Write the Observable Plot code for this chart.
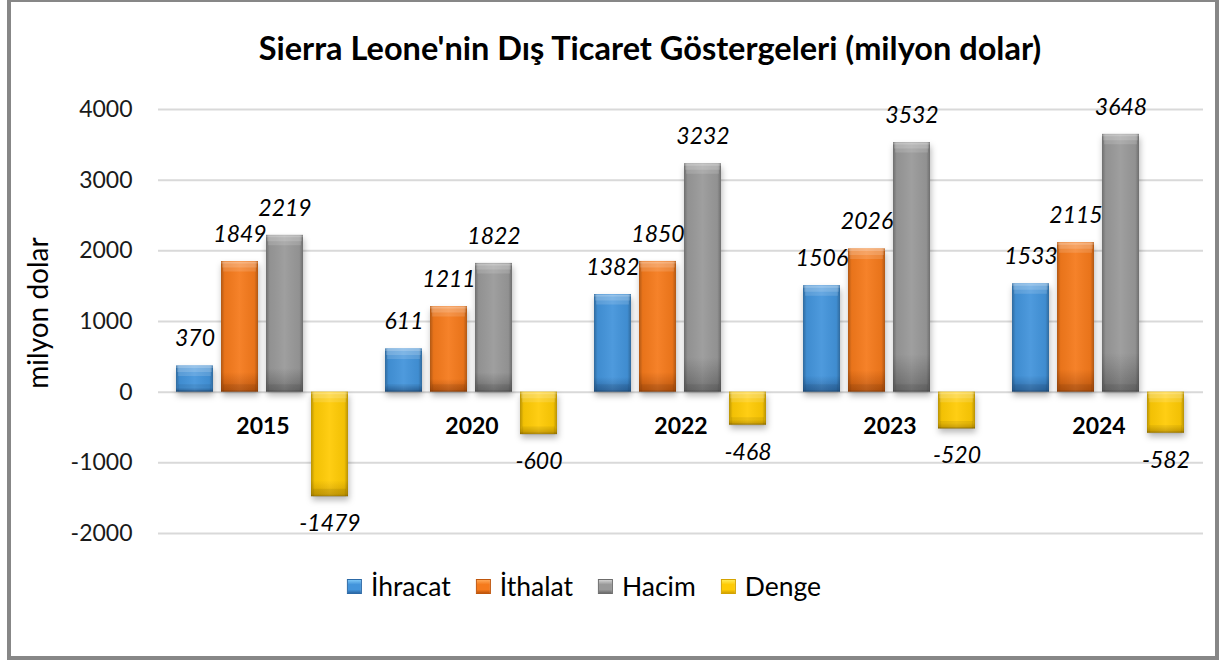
<!DOCTYPE html>
<html>
<head>
<meta charset="utf-8">
<script src="https://cdn.jsdelivr.net/npm/d3@7"></script>
<script src="https://cdn.jsdelivr.net/npm/@observablehq/plot@0.6"></script>
<style>
  html, body { margin: 0; padding: 0; background: #fff; }
  #wrap { position: relative; width: 1219px; height: 660px; overflow: hidden; font-family: Lato, sans-serif; }
  #frame { position: absolute; left: 7px; top: -2px; width: 1212px; height: 662px; box-sizing: border-box; border: 4px solid #878787; pointer-events: none; }
  #title { position: absolute; left: 650px; top: 28px; transform: translateX(-50%); font-weight: bold; font-size: 32.5px; line-height: 40px; white-space: nowrap; color: #000; }
  #ylabel { position: absolute; left: 37px; top: 313px; transform: translate(-50%, -50%) rotate(-90deg); font-size: 28px; white-space: nowrap; color: #000; }
  #chart { position: absolute; left: 0; top: 0; }
  #legend { position: absolute; left: 584px; top: 570px; transform: translateX(-50%); display: flex; align-items: center; font-size: 26.5px; line-height: 32px; white-space: nowrap; color: #000; }
  .item { display: flex; align-items: center; margin-right: 25px; }
  .item:last-child { margin-right: 0; }
  .sw { width: 15px; height: 15px; margin-right: 9px; box-sizing: border-box; }
</style>
</head>
<body>
<div id="wrap">
  <div id="chart"></div>
  <div id="title">Sierra Leone'nin Dış Ticaret Göstergeleri (milyon dolar)</div>
  <div id="ylabel">milyon dolar</div>
  <div id="legend"></div>
  <div id="frame"></div>
</div>
<script>
// ---- data ----
const years = ["2015", "2020", "2022", "2023", "2024"];
const series = ["İhracat", "İthalat", "Hacim", "Denge"];
const ihracat = [370, 611, 1382, 1506, 1533];
const ithalat = [1849, 1211, 1850, 2026, 2115];
const hacim = [2219, 1822, 3232, 3532, 3648];
const denge = [-1479, -600, -468, -520, -582];
const yTicks = [-2000, -1000, 0, 1000, 2000, 3000, 4000];

// ---- styles ----
const palette = {
  "İhracat": {light: "#7cc6f6", main: "#4394db", dark: "#2c69a6", ph: "#0000f1"},
  "İthalat": {light: "#ffa857", main: "#f57a1c", dark: "#bf560c", ph: "#0000f2"},
  "Hacim":   {light: "#d2d2d2", main: "#999999", dark: "#6c6c6c", ph: "#0000f3"},
  "Denge":   {light: "#ffea55", main: "#ffcb05", dark: "#d4a300", ph: "#0000f4"}
};

const valuesBySeries = [ihracat, ithalat, hacim, denge];
const rows = [];
years.forEach((yr, i) => {
  series.forEach((s, j) => rows.push({year: yr, series: s, value: valuesBySeries[j][i]}));
});

const topOf = d => Math.max(d.value, 0);
const bottomOf = d => Math.min(d.value, 0);

const plot = Plot.plot({
  width: 1219,
  height: 560,
  marginLeft: 156,
  marginRight: 14,
  marginTop: 109,
  marginBottom: 27,
  style: {fontFamily: "Lato, sans-serif", fontSize: "23px", color: "#1a1a1a", background: "transparent", overflow: "visible"},
  fx: {domain: years, paddingInner: 0.171, paddingOuter: 0.0855, axis: null, label: null},
  x: {domain: series, paddingInner: 0.17, paddingOuter: 0, axis: null, label: null},
  y: {domain: [-2000, 4000], ticks: 6, tickSize: 0, tickPadding: 44, label: null, tickFormat: d => String(d)},
  color: {domain: series, range: series.map(s => palette[s].ph)},
  marks: [
    Plot.ruleY(yTicks, {stroke: "#d9d9d9", strokeWidth: 2, insetLeft: -18, insetRight: -18}),
    Plot.barY(rows, {fx: "year", x: "series", y: "value", fill: "series"}),
    Plot.barY(rows, {fx: "year", x: "series", y: "value", fill: "#000001"}),
    // soft top bevel highlight
    Plot.tickY(rows, {fx: "year", x: "series", y: topOf, stroke: "#ffffff", strokeOpacity: 0.14, strokeWidth: 10, dy: 5, insetLeft: 2, insetRight: 2}),
    Plot.tickY(rows, {fx: "year", x: "series", y: topOf, stroke: "#ffffff", strokeOpacity: 0.16, strokeWidth: 6, dy: 3, insetLeft: 1, insetRight: 1}),
    Plot.tickY(rows, {fx: "year", x: "series", y: topOf, stroke: "#ffffff", strokeOpacity: 0.2, strokeWidth: 2, dy: 1}),
    // soft bottom shade
    Plot.tickY(rows, {fx: "year", x: "series", y: bottomOf, stroke: "#000000", strokeOpacity: 0.07, strokeWidth: 8, dy: -4, insetLeft: 2, insetRight: 2}),
    Plot.tickY(rows, {fx: "year", x: "series", y: bottomOf, stroke: "#000000", strokeOpacity: 0.1, strokeWidth: 2, dy: -1}),
    Plot.text(rows.filter(d => d.value >= 0), {fx: "year", x: "series", y: "value", text: d => String(d.value), dy: -27, fontStyle: "italic", fontSize: 23, fill: "#000"}),
    Plot.text(rows.filter(d => d.value < 0), {fx: "year", x: "series", y: "value", text: d => String(d.value), dy: 27, fontStyle: "italic", fontSize: 23, fill: "#000"}),
    Plot.text(rows.filter(d => d.series === "Hacim"), {fx: "year", y: 0, text: "year", dy: 34, fontWeight: "bold", fontSize: 23, fill: "#000"})
  ]
});

// gradients
const NS = "http://www.w3.org/2000/svg";
const defs = document.createElementNS(NS, "defs");
function grad(id, stops, horizontal) {
  const g = document.createElementNS(NS, "linearGradient");
  g.setAttribute("id", id);
  g.setAttribute("x1", "0"); g.setAttribute("y1", "0");
  g.setAttribute("x2", horizontal ? "1" : "0"); g.setAttribute("y2", horizontal ? "0" : "1");
  stops.forEach(([o, c, op]) => {
    const s = document.createElementNS(NS, "stop");
    s.setAttribute("offset", o);
    s.setAttribute("stop-color", c);
    s.setAttribute("stop-opacity", op == null ? 1 : op);
    g.appendChild(s);
  });
  defs.appendChild(g);
}
series.forEach((s, i) => {
  const p = palette[s];
  grad("g" + i, [[0, p.main], [0.85, p.main], [1, p.dark]], false);
});
grad("edge", [[0, "#000", 0.28], [0.1, "#000", 0.05], [0.5, "#fff", 0.06], [0.9, "#000", 0.05], [1, "#000", 0.28]], true);
plot.insertBefore(defs, plot.firstChild);

const phMap = {};
series.forEach((s, i) => { phMap[palette[s].ph] = "url(#g" + i + ")"; });
plot.querySelectorAll("[fill]").forEach(el => {
  const f = el.getAttribute("fill");
  if (phMap[f]) {
    el.setAttribute("fill", phMap[f]);
    if (el.tagName.toLowerCase() === "rect") el.style.filter = "drop-shadow(1px 4px 3px rgba(0,0,0,0.28))";
  } else if (f === "#000001") {
    el.setAttribute("fill", "url(#edge)");
  }
});
document.getElementById("chart").appendChild(plot);

// legend
const legend = document.getElementById("legend");
series.forEach(s => {
  const p = palette[s];
  const item = document.createElement("div");
  item.className = "item";
  const sw = document.createElement("div");
  sw.className = "sw";
  sw.style.background = `linear-gradient(to bottom, ${p.light} 0%, ${p.main} 35%, ${p.main} 75%, ${p.dark} 100%)`;
  sw.style.border = `1px solid ${p.dark}`;
  const t = document.createElement("span");
  t.textContent = s;
  item.appendChild(sw);
  item.appendChild(t);
  legend.appendChild(item);
});
</script>
</body>
</html>
